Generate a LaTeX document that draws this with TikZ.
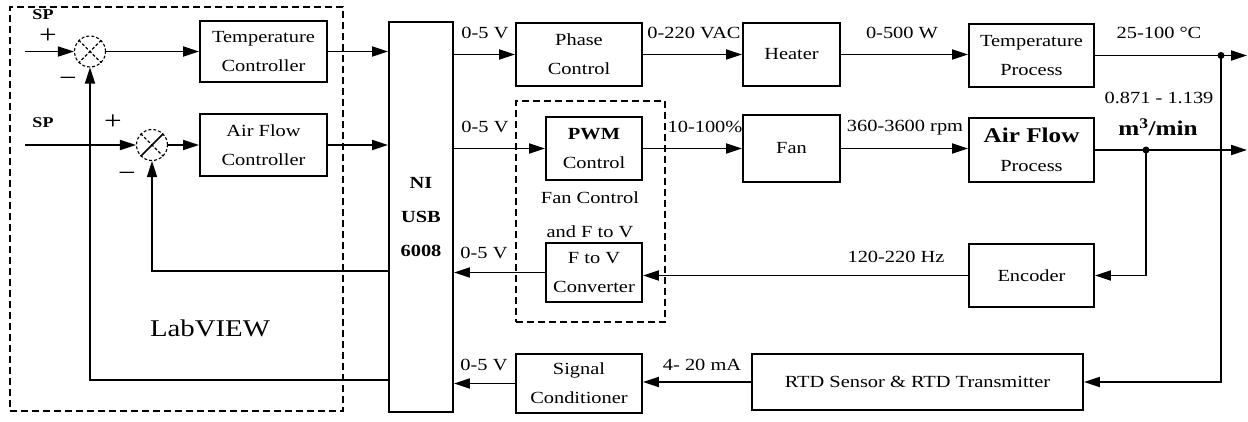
\documentclass[tikz,border=0pt]{standalone}
\usepackage{fontspec}
\setmainfont{Liberation Serif}[FakeStretch=1.2]
\usetikzlibrary{arrows.meta,calc}
\newcommand\lbl{\fontsize{17}{29}\selectfont}
\begin{document}
\begin{tikzpicture}[x=1pt,y=-1pt,line width=1.8pt,
  blk/.style={draw,rectangle,inner sep=0pt,align=center,font=\lbl},
  dbox/.style={draw,rectangle,inner sep=0pt,dash pattern=on 7pt off 4pt,line width=1.5pt},
  sumj/.style={circle,draw,densely dashed,line width=1.1pt,minimum size=31pt,inner sep=0pt},
  arr/.style={-{Triangle[length=16pt,width=10pt]}},
  txt/.style={font=\lbl,inner sep=0pt},
  sgn/.style={font=\fontsize{26}{26}\selectfont,inner sep=0pt},
  dot/.style={circle,fill,inner sep=0pt,minimum size=7pt}]
\useasboundingbox (0,0) rectangle (1248,421);
% dashed groups
\node[dbox,minimum width=333pt,minimum height=404pt] (lv) at (176.5,209) {};
\node[dbox,minimum width=149pt,minimum height=221pt] (fcg) at (590.5,211.5) {};
% blocks
\node[blk,minimum width=127pt,minimum height=61pt] (tc) at (263.5,51.5) {Temperature\\Controller};
\node[blk,minimum width=127pt,minimum height=62pt] (afc) at (263.5,145) {Air Flow\\Controller};
\node[blk,minimum width=64pt,minimum height=390pt,font=\fontsize{17}{34}\selectfont] (ni) at (421,217) {\textbf{NI}\\\textbf{USB}\\\textbf{6008}};
\node[blk,minimum width=126pt,minimum height=63pt] (pc) at (579,54.5) {Phase\\Control};
\node[blk,minimum width=97pt,minimum height=63pt] (heater) at (791.5,54.5) {Heater};
\node[blk,minimum width=125pt,minimum height=63pt] (tp) at (1031.5,55.5) {Temperature\\Process};
\node[blk,minimum width=96pt,minimum height=63pt] (pwm) at (594,148.5) {\textbf{PWM}\\Control};
\node[blk,minimum width=97pt,minimum height=67pt] (fan) at (791.5,148.5) {Fan};
\node[blk,minimum width=125pt,minimum height=64pt] (afp) at (1031.5,150) {{\fontsize{21}{29}\selectfont\bfseries Air Flow}\\Process};
\node[blk,minimum width=96pt,minimum height=59pt] (ftv) at (594,272.5) {F to V\\Converter};
\node[blk,minimum width=125pt,minimum height=63pt] (enc) at (1031.5,275.5) {Encoder};
\node[blk,minimum width=331pt,minimum height=56pt] (rtd) at (917.5,382) {RTD Sensor \& RTD Transmitter};
\node[blk,minimum width=126pt,minimum height=59pt] (sc) at (579,383.5) {Signal\\Conditioner};
% summing junctions
\node[sumj] (s1) at (90,51.5) {};
\node[sumj] (s2) at (152,145) {};
\draw[line width=1.1pt,densely dashed] (s1.north east)--(s1.south west) (s1.north west)--(s1.south east);
\draw[line width=1.1pt,densely dashed] (s2.north west)--(s2.south east);
\draw[line width=1.5pt] (s2.north east)--(s2.south west);
\coordinate (sp1) at (25,51.5);
\coordinate (sp2) at (25,145);
% texts
\node[txt,font=\fontsize{15}{15}\selectfont\bfseries] (tsp1) at (43,15) {SP};
\node[txt,font=\fontsize{15}{15}\selectfont\bfseries] (tsp2) at (43,123) {SP};
\node[sgn] (p1) at (48,36) {+};
\node[sgn] (m1) at (68,82) {\textminus};
\node[sgn] (p2) at (113,122) {+};
\node[sgn] (m2) at (127,177) {\textminus};
\node[txt,font=\fontsize{24}{24}\selectfont] (tlv) at (210,328) {LabVIEW};
\node[txt] (l1) at (485,33) {0-5 V};
\node[txt] (l2) at (485,127) {0-5 V};
\node[txt] (l3) at (484,253) {0-5 V};
\node[txt] (l4) at (484,365) {0-5 V};
\node[txt] (l5) at (694,33) {0-220 VAC};
\node[txt] (l6) at (705,127) {10-100\%};
\node[txt] (l7) at (902,33) {0-500 W};
\node[txt] (l8) at (905,128) {360-3600 rpm};
\node[txt] (l9) at (1159,33) {25-100 \textdegree{}C};
\node[txt] (l10) at (1159,98) {0.871 - 1.139};
\node[txt,font=\fontsize{21}{21}\selectfont\bfseries] (l11) at (1158,127) {m\textsuperscript{3}/min};
\node[txt] (l12) at (590,198) {Fan Control};
\node[txt] (l13) at (590,232) {and F to V};
\node[txt] (l14) at (896,257) {120-220 Hz};
\node[txt] (l15) at (702,365) {4- 20 mA};
% connectors
\draw[arr] (sp1) -- (s1.west);
\draw[arr] (sp2) -- (s2.west);
\draw[arr] (s1.east) -- (tc.west);
\draw[arr] (s2.east) -- (afc.west);
\draw[arr] (tc.east) -- (tc.east -| ni.west);
\draw[arr] (afc.east) -- (afc.east -| ni.west);
\draw[arr] (ni.east |- pc.west) -- (pc.west);
\draw[arr] (ni.east |- pwm.west) -- (pwm.west);
\draw[arr] (pc.east) -- (pc.east -| heater.west);
\draw[arr] (pwm.east) -- (pwm.east -| fan.west);
\draw[arr] (heater.east) -- (heater.east -| tp.west);
\draw[arr] (fan.east) -- (fan.east -| afp.west);
\coordinate (o1) at (1247,55.5);
\coordinate (o2) at (1247,150);
\node[dot] (d1) at (1221,55.5) {};
\node[dot] (d2) at (1146,150) {};
\draw[arr] (tp.east) -- (o1);
\draw[arr] (afp.east) -- (o2);
\draw[arr] (d2.center) |- (enc.east);
\draw[arr] (d1.center) |- (rtd.east);
\draw[arr] (enc.west) -- (enc.west -| ftv.east);
\draw[arr] (ftv.west) -- (ftv.west -| ni.east);
\draw[arr] (rtd.west) -- (rtd.west -| sc.east);
\draw[arr] (sc.west) -- (sc.west -| ni.east);
\draw[arr] (ni.west |- 0,271) -| (s2.south);
\draw[arr] (ni.west |- 0,380) -| (s1.south);
\end{tikzpicture}
\end{document}
